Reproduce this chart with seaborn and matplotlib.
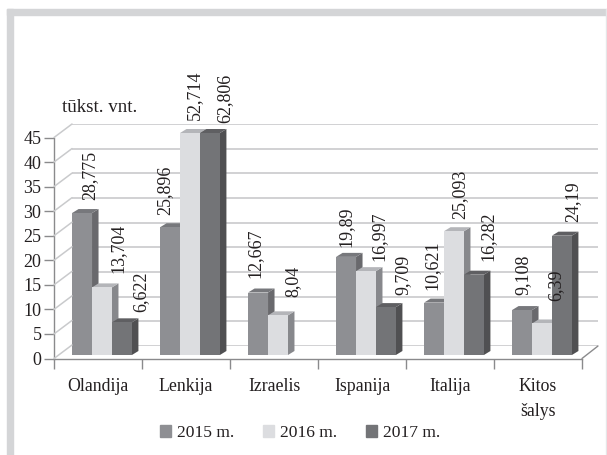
import pandas as pd
import matplotlib.pyplot as plt
from matplotlib.patches import Polygon, Rectangle
from matplotlib.lines import Line2D
import seaborn as sns

W, H = 607, 455

countries = ['Olandija', 'Lenkija', 'Izraelis', 'Ispanija', 'Italija', 'Kitos\nšalys']
years = ['2015 m.', '2016 m.', '2017 m.']
v2015 = [28.775, 25.896, 12.667, 19.89, 10.621, 9.108]
v2016 = [13.704, 52.714, 8.04, 16.997, 25.093, 6.39]
v2017 = [6.622, 62.806, None, 9.709, 16.282, 24.19]
labels2015 = ['28,775', '25,896', '12,667', '19,89', '10,621', '9,108']
labels2016 = ['13,704', '52,714', '8,04', '16,997', '25,093', '6,39']
labels2017 = ['6,622', '62,806', '', '9,709', '16,282', '24,19']
y_ticks = [0, 5, 10, 15, 20, 25, 30, 35, 40, 45]

# hand placed labels in the original: sideways nudge and gap above the bar, in pixels
nudge_x = [[8, -5, -3, 0, -2, 1], [16, 4, 15, 13, 6, 14], [19, 15, 0, 17, 14, 11]]
gap_y = [[9, 8, 11, 6, 9, 11], [10, 9, 14, 6, 8, 18], [6, 6, 0, 8, 10, 10]]

front = ['#8e8f93', '#dcdde0', '#737477']
side = ['#69696d', '#87888c', '#505052']
top = ['#77787c', '#b4b5b9', '#5f5f62']
text_col = '#231f20'
grid_col = '#c9cacc'
axis_col = '#8a8a8c'
band_col = '#d4d5d7'


def px_axes(fig, left, right, ytop, ybottom):
    # axes placed by pixel edges, y measured from the top of the image
    return fig.add_axes([left / W, 1 - ybottom / H, (right - left) / W, (ybottom - ytop) / H])


def main():
    sns.set_style("white")
    plt.rcParams['font.family'] = ['Liberation Serif', 'DejaVu Serif']
    fig = plt.figure(figsize=(W / 100, H / 100), dpi=100)

    # frame of the picture
    fig.add_artist(Rectangle((7 / W, 0), 5.5 / W, 1 - 8.5 / H, color=band_col, transform=fig.transFigure))
    fig.add_artist(Rectangle((7 / W, 1 - 14.5 / H), 600 / W, 6 / H, color=band_col, transform=fig.transFigure))
    fig.add_artist(Rectangle((606 / W, 0), 1 / W, 1 - 8.5 / H, color='#e6e6e8', transform=fig.transFigure))

    # back wall with the grid
    wall = px_axes(fig, 72, 598, 124, 346)
    wall.patch.set_alpha(0)
    wall.set_ylim(0, 45)
    wall.set_yticks(y_ticks)
    wall.set_xticks([])
    wall.set_yticklabels([])
    wall.grid(True, axis='y', color=grid_col, lw=1.2)
    sns.despine(ax=wall, left=True, bottom=True)
    wall.tick_params(left=False)

    # front axis with ticks
    frame = px_axes(fig, 54, 582, 137.5, 358.5)
    frame.patch.set_alpha(0)
    frame.set_xlim(-0.5, 5.5)
    frame.set_ylim(0, 45)
    frame.set_yticks(y_ticks)
    frame.set_xticks([i - 0.5 for i in range(7)])
    frame.set_xticklabels([])
    frame.tick_params(axis='y', length=7, width=1, color=axis_col, labelsize=13, labelcolor=text_col, pad=2, left=True)
    frame.tick_params(axis='x', length=7, width=1, color=axis_col, bottom=True)
    sns.despine(ax=frame)
    for name in ['left', 'bottom']:
        frame.spines[name].set_color(axis_col)
        frame.spines[name].set_linewidth(1)
    for i, c in enumerate(countries):
        frame.text(i, -0.09, c, transform=frame.get_xaxis_transform(), ha='center', va='top',
                   fontsize=12.8, color=text_col, linespacing=1.55)

    # diagonals joining the front axis to the wall
    for ypx in [137.5 + i * (358.5 - 137.5) / 9 for i in range(10)]:
        fig.add_artist(Line2D([54 / W, 72 / W], [1 - ypx / H, 1 - (ypx - 13.5) / H], color=grid_col, lw=1.1))
    fig.add_artist(Line2D([582 / W, 598 / W], [1 - 358.5 / H, 1 - 346 / H], color=axis_col, lw=1))

    # bars
    ax = px_axes(fig, 58, 586, 133, 355)
    ax.patch.set_alpha(0)
    df = pd.DataFrame({'country': countries, years[0]: v2015, years[1]: v2016, years[2]: v2017})
    long_df = df.melt(id_vars='country', var_name='year', value_name='value')
    sns.barplot(data=long_df, x='country', y='value', hue='year', hue_order=years, palette=front,
                order=countries, width=0.68, saturation=1, dodge=True, ax=ax, legend=False, linewidth=0)
    ax.set_xlim(-0.5, 5.5)
    ax.set_ylim(0, 45)
    ax.axis('off')

    dx = 6.5 / (528 / 6)
    dy = 4 / (222 / 45)
    all_labels = [labels2015, labels2016, labels2017]
    for h, cont in enumerate(ax.containers):
        for bar in cont:
            val = bar.get_height()
            if not val == val or val == 0:
                continue
            x0, x1 = bar.get_x(), bar.get_x() + bar.get_width()
            # the seaborn container skips the missing bar, so find the group from the position
            i = int(round((x0 + x1) / 2))
            yt = min(val, 45)
            z = 3 + 2 * h
            bar.set_zorder(z + 1)
            ax.add_patch(Polygon([(x1, 0), (x1 + dx, dy), (x1 + dx, yt + dy), (x1, yt)], color=side[h], lw=0, zorder=z, clip_on=False))
            ax.add_patch(Polygon([(x0, yt), (x0 + dx, yt + dy), (x1 + dx, yt + dy), (x1, yt)], color=top[h], lw=0, zorder=z, clip_on=False))
            ax.annotate(all_labels[h][i], ((x0 + x1) / 2, yt + dy),
                        xytext=(nudge_x[h][i] * 0.72, gap_y[h][i] * 0.72),
                        textcoords='offset points', rotation=90, ha='center', va='bottom',
                        fontsize=13, color=text_col, annotation_clip=False, zorder=20)

    # legend
    handles = [Rectangle((0, 0), 1, 1, color=c) for c in front]
    fig.legend(handles, years, loc='center', bbox_to_anchor=(300 / W, 1 - 433 / H), ncol=3, frameon=False,
               fontsize=12.6, handlelength=0.62, handleheight=0.62, handletextpad=0.35, columnspacing=1.65,
               labelcolor=text_col, borderpad=0)

    fig.text(62 / W, 1 - 107 / H, 'tūkst. vnt.', fontsize=13.7, color=text_col, ha='left', va='center')

    fig.savefig('out.png', dpi=100)
    plt.close(fig)


if __name__ == "__main__":
    main()
